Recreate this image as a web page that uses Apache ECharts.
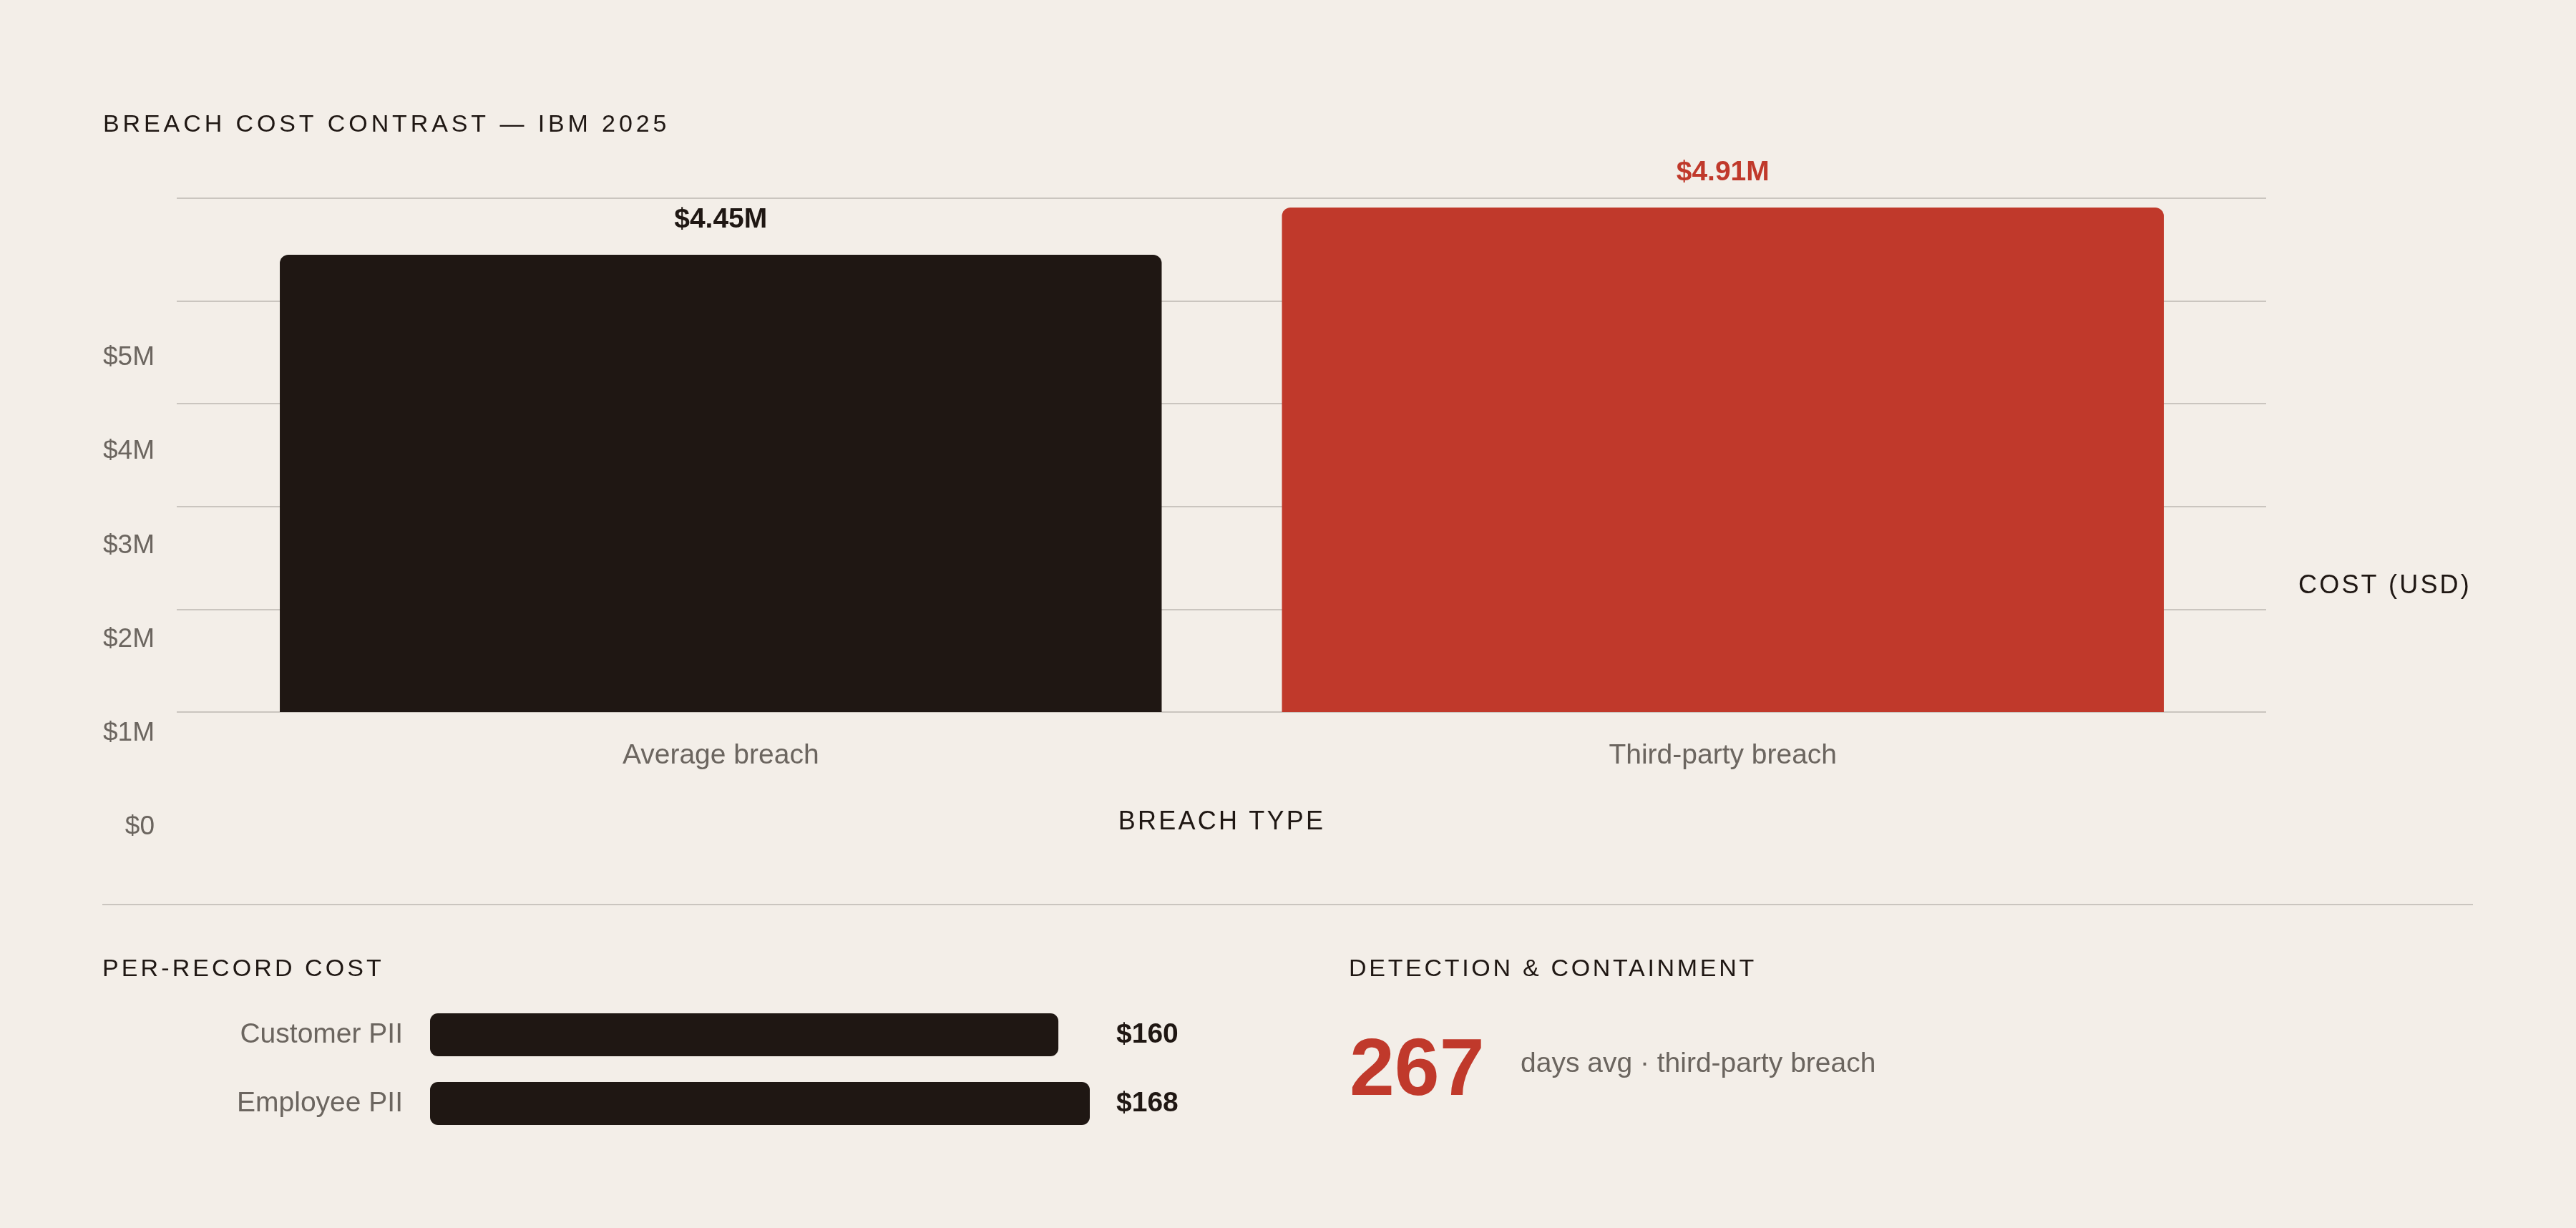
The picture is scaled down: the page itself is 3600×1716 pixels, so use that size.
<!DOCTYPE html>
<html>
<head>
<meta charset="utf-8">
<title>Breach cost contrast — IBM 2025</title>
<script src="https://cdn.jsdelivr.net/npm/echarts@6/dist/echarts.min.js"></script>
<style>
  html, body { margin: 0; padding: 0; background: #f3eee8; }
  #chart { width: 3600px; height: 1716px; }
</style>
</head>
<body>
<div id="chart"></div>
<script>
// breach cost, USD millions
const breachTypes = ["Average breach", "Third-party breach"];
const breachCost = [4.45, 4.91];
const costTicks = [0, 1, 2, 3, 4, 5];

// per-record cost, USD
const recordTypes = ["Customer PII", "Employee PII"];
const recordCost = [160, 168];

// detection & containment
const containDays = 267;
const containNote = "days avg · third-party breach";

const BG = "#f3eee8";
const INK = "#1f1713";
const RED = "#c0392b";
const MUTED = "#6b655f";
const RULE = "#cac5bf";
const FONT = '"Liberation Sans", Arial, sans-serif';
const barColors = [INK, RED];

const TITLE = "BREACH COST CONTRAST — IBM 2025";

// zrender has no letter-spacing option, so the spaced caps headings get it on the canvas
const spaced = new Map([
  [TITLE, 4.9],
  ["PER-RECORD COST", 4.1],
  ["DETECTION & CONTAINMENT", 3.7],
  ["BREACH TYPE", 3.2],
  ["COST (USD)", 3.2],
]);
const fillText = CanvasRenderingContext2D.prototype.fillText;
CanvasRenderingContext2D.prototype.fillText = function (text, x, y, maxWidth) {
  this.letterSpacing = (spaced.get(text) || 0) + "px";
  return maxWidth === undefined
    ? fillText.call(this, text, x, y)
    : fillText.call(this, text, x, y, maxWidth);
};

function heading(text, x, y, size, color, weight) {
  return {
    type: "text",
    x: x,
    y: y,
    silent: true,
    style: {
      text: text,
      fill: color,
      fontSize: size,
      fontWeight: weight || "normal",
      fontFamily: FONT,
      align: "left",
      verticalAlign: "middle",
      textAlign: "left",
      textVerticalAlign: "middle",
    },
  };
}

const hidden = { axisLine: { show: false }, axisTick: { show: false } };

const chart = echarts.init(document.getElementById("chart"));

chart.setOption({
  backgroundColor: BG,
  animation: false,
  textStyle: { fontFamily: FONT },
  grid: [
    { left: 307, right: 492, top: 277, bottom: 721 }, // breach bars
    { left: 247, right: 433, top: 277, bottom: 721 }, // gridlines
    { left: 226, width: 10, top: 500, bottom: 560 }, // cost tick labels
    { left: 601, right: 2077, top: 1398, bottom: 126 }, // per-record bars
  ],
  xAxis: [
    {
      gridIndex: 0,
      type: "category",
      data: breachTypes,
      ...hidden,
      axisLabel: { color: MUTED, fontSize: 39, margin: 42 },
      name: "BREACH TYPE",
      nameLocation: "middle",
      nameGap: 136,
      nameTextStyle: { color: INK, fontSize: 36 },
    },
    { gridIndex: 1, type: "value", show: false },
    { gridIndex: 2, type: "value", show: false },
    { gridIndex: 3, type: "value", min: 0, max: Math.max(...recordCost), show: false },
  ],
  yAxis: [
    { gridIndex: 0, type: "value", min: 0, max: costTicks[costTicks.length - 1], show: false },
    {
      gridIndex: 1,
      type: "value",
      min: costTicks[0],
      max: costTicks[costTicks.length - 1],
      interval: costTicks[1] - costTicks[0],
      ...hidden,
      axisLabel: { show: false },
      splitLine: { lineStyle: { color: RULE, width: 2 } },
    },
    {
      gridIndex: 2,
      type: "value",
      min: costTicks[0],
      max: costTicks[costTicks.length - 1],
      interval: costTicks[1] - costTicks[0],
      ...hidden,
      splitLine: { show: false },
      axisLabel: {
        color: MUTED,
        fontSize: 37,
        margin: 10,
        formatter: (v) => (v === 0 ? "$0" : "$" + v + "M"),
      },
    },
    {
      gridIndex: 3,
      type: "category",
      data: recordTypes,
      inverse: true,
      ...hidden,
      axisLabel: { color: MUTED, fontSize: 39, margin: 38 },
    },
    {
      gridIndex: 3,
      type: "category",
      data: recordCost.map((v) => "$" + v),
      inverse: true,
      position: "right",
      ...hidden,
      axisLabel: { color: INK, fontSize: 39, fontWeight: "bold", margin: 37, align: "left" },
    },
  ],
  series: [
    {
      type: "bar",
      xAxisIndex: 0,
      yAxisIndex: 0,
      barWidth: "88%",
      silent: true,
      z: 3,
      data: breachCost.map((v, i) => ({
        value: v,
        itemStyle: { color: barColors[i] },
        label: { color: barColors[i] },
      })),
      itemStyle: { borderRadius: [12, 12, 0, 0] },
      label: {
        show: true,
        position: "top",
        distance: 29,
        fontSize: 39,
        fontWeight: "bold",
        formatter: (p) => "$" + p.value.toFixed(2) + "M",
      },
    },
    {
      type: "bar",
      xAxisIndex: 3,
      yAxisIndex: 3,
      barWidth: 60,
      silent: true,
      data: recordCost,
      itemStyle: { color: INK, borderRadius: 11 },
    },
  ],
  graphic: [
    heading(TITLE, 144, 175, 34, INK),
    heading("COST (USD)", 3212, 819, 36, INK),
    {
      type: "line",
      silent: true,
      shape: { x1: 143, y1: 1264, x2: 3456, y2: 1264 },
      style: { stroke: RULE, lineWidth: 2 },
    },
    heading("PER-RECORD COST", 143, 1355, 34, INK),
    heading("DETECTION & CONTAINMENT", 1885, 1355, 34, INK),
    heading(String(containDays), 1886, 1499, 113, RED, "bold"),
    heading(containNote, 2125, 1487, 39, MUTED),
  ],
});
</script>
</body>
</html>
